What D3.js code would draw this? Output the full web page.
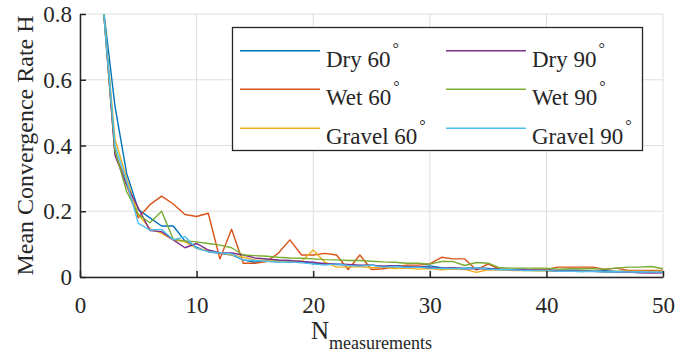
<!DOCTYPE html>
<html>
<head>
<meta charset="utf-8">
<script src="https://cdn.jsdelivr.net/npm/d3@7"></script>
<style>
  body { margin: 0; background: white; }
  text { font-family: "Liberation Serif", "Times New Roman", serif; fill: #262626; }
</style>
</head>
<body>
<div id="container"></div>
<script>
let w = 692;
let h = 353;

// number of measurements, 2 .. 50
let nValues = d3.range(2, 51);

let dry60 = [0.82,0.52,0.315,0.205,0.18,0.155,0.155,0.11,0.09,0.077,0.072,0.067,0.052,0.045,0.052,0.05,0.045,0.048,0.04,0.042,0.038,0.036,0.034,0.036,0.032,0.034,0.033,0.03,0.034,0.028,0.026,0.027,0.028,0.026,0.024,0.023,0.024,0.021,0.022,0.02,0.021,0.02,0.018,0.019,0.017,0.018,0.016,0.015,0.015];
let wet60 = [0.82,0.38,0.28,0.18,0.22,0.246,0.222,0.19,0.184,0.194,0.055,0.145,0.042,0.042,0.047,0.072,0.113,0.067,0.067,0.072,0.067,0.023,0.067,0.023,0.025,0.03,0.036,0.036,0.04,0.06,0.055,0.055,0.021,0.04,0.023,0.022,0.02,0.023,0.023,0.03,0.03,0.03,0.03,0.023,0.027,0.02,0.02,0.02,0.02];
let gravel60 = [0.82,0.42,0.3,0.19,0.147,0.133,0.113,0.107,0.087,0.08,0.074,0.067,0.06,0.052,0.05,0.048,0.047,0.047,0.082,0.045,0.03,0.03,0.032,0.028,0.03,0.026,0.027,0.024,0.026,0.022,0.024,0.023,0.014,0.022,0.021,0.02,0.02,0.019,0.018,0.018,0.017,0.018,0.017,0.016,0.017,0.018,0.018,0.017,0.018];
let dry90 = [0.82,0.37,0.28,0.21,0.141,0.138,0.113,0.089,0.102,0.082,0.074,0.073,0.067,0.058,0.055,0.052,0.05,0.047,0.045,0.04,0.04,0.038,0.036,0.036,0.033,0.034,0.03,0.031,0.028,0.027,0.028,0.025,0.026,0.024,0.024,0.022,0.022,0.021,0.02,0.018,0.019,0.017,0.017,0.016,0.014,0.015,0.013,0.012,0.013];
let wet90 = [0.82,0.385,0.26,0.19,0.165,0.2,0.115,0.11,0.107,0.102,0.097,0.089,0.067,0.065,0.063,0.06,0.058,0.057,0.055,0.053,0.052,0.05,0.05,0.048,0.046,0.045,0.042,0.042,0.039,0.047,0.047,0.035,0.044,0.042,0.028,0.027,0.027,0.027,0.027,0.024,0.025,0.025,0.025,0.024,0.027,0.03,0.03,0.032,0.025];
let gravel90 = [0.82,0.4,0.29,0.163,0.143,0.145,0.113,0.123,0.087,0.077,0.074,0.07,0.052,0.05,0.048,0.045,0.046,0.043,0.04,0.036,0.04,0.035,0.033,0.036,0.03,0.032,0.029,0.03,0.027,0.026,0.026,0.025,0.028,0.024,0.022,0.022,0.02,0.02,0.02,0.017,0.018,0.016,0.017,0.015,0.016,0.015,0.016,0.015,0.015];

let seriesNames = ["Dry 60", "Wet 60", "Gravel 60", "Dry 90", "Wet 90", "Gravel 90"];
let seriesValues = [dry60, wet60, gravel60, dry90, wet90, gravel90];
let seriesColors = ["#0072BD", "#D95319", "#EDB120", "#7E2F8E", "#77AC30", "#4DBEEE"];

let xTicks = [0, 10, 20, 30, 40, 50];
let yTicks = [0, 0.2, 0.4, 0.6, 0.8];

let plotLeft = 80, plotRight = 663, plotTop = 14, plotBottom = 277;
let serif = "'Liberation Serif', 'Times New Roman', serif";

let viz = d3.select("#container")
  .append("svg")
    .attr("width", w)
    .attr("height", h)
    .style("background-color", "white")
;

let xScale = d3.scaleLinear().domain([0, 50]).range([plotLeft, plotRight]);
let yScale = d3.scaleLinear().domain([0, 0.8]).range([plotBottom, plotTop]);

// grid
viz.append("g").selectAll("line").data(xTicks).enter()
  .append("line")
    .attr("x1", d => xScale(d)).attr("x2", d => xScale(d))
    .attr("y1", plotTop).attr("y2", plotBottom)
    .attr("stroke", "#dfdfdf")
    .attr("stroke-width", 1)
;
viz.append("g").selectAll("line").data(yTicks).enter()
  .append("line")
    .attr("x1", plotLeft).attr("x2", plotRight)
    .attr("y1", d => yScale(d)).attr("y2", d => yScale(d))
    .attr("stroke", "#dfdfdf")
    .attr("stroke-width", 1)
;

// data lines, clipped to the axes box
viz.append("clipPath").attr("id", "plotclip")
  .append("rect")
    .attr("x", plotLeft).attr("y", plotTop)
    .attr("width", plotRight - plotLeft).attr("height", plotBottom - plotTop)
;

let lineGen = d3.line()
  .x((d, i) => xScale(nValues[i]))
  .y(d => yScale(d))
;

viz.append("g").attr("clip-path", "url(#plotclip)")
  .selectAll("path").data(seriesValues).enter()
  .append("path")
    .attr("d", lineGen)
    .attr("fill", "none")
    .attr("stroke", (d, i) => seriesColors[i])
    .attr("stroke-width", 1.4)
    .attr("stroke-linejoin", "round")
;

// axes
let xAxis = d3.axisBottom(xScale).tickValues(xTicks).tickSizeInner(-6).tickSizeOuter(0).tickPadding(14);
let yAxis = d3.axisLeft(yScale).tickValues(yTicks).tickSizeInner(-6).tickSizeOuter(0).tickPadding(14)
  .tickFormat(d => d === 0 ? "0" : d3.format(".1f")(d));

let gx = viz.append("g").attr("transform", "translate(0," + plotBottom + ")").call(xAxis);
let gy = viz.append("g").attr("transform", "translate(" + plotLeft + ",0)").call(yAxis);

[gx, gy].forEach(function(g){
  g.attr("font-family", null).attr("font-size", null);
  g.select(".domain").attr("stroke", "#262626").attr("stroke-width", 1.5);
  g.selectAll(".tick line").attr("stroke", "#262626").attr("stroke-width", 1.5);
  g.selectAll(".tick text")
    .style("font-family", serif)
    .style("font-size", "23px")
    .attr("fill", "#262626");
});
gx.selectAll(".tick text").attr("y", 20).attr("dy", "0.71em");
gy.selectAll(".tick text").attr("x", -8).attr("dy", "0.33em");

// axis labels
viz.append("text")
  .attr("transform", "translate(33," + ((plotTop + plotBottom) / 2) + ") rotate(-90)")
  .attr("text-anchor", "middle")
  .attr("font-size", 24)
  .text("Mean Convergence Rate H")
;

let xlab = viz.append("text")
  .attr("x", (plotLeft + plotRight) / 2)
  .attr("y", 339)
  .attr("text-anchor", "middle")
  .attr("font-size", 25)
;
xlab.append("tspan").text("N");
xlab.append("tspan").attr("font-size", 18).attr("dy", 10).text("measurements");

// legend, two columns
let legend = viz.append("g");
legend.append("rect")
  .attr("x", 232.5).attr("y", 27.5)
  .attr("width", 410).attr("height", 123)
  .attr("fill", "white")
  .attr("stroke", "#262626")
  .attr("stroke-width", 1.3)
;

let rowY = [50.7, 89.3, 128.3];
let colX = [240, 446];

let items = legend.selectAll(".item").data(seriesNames).enter()
  .append("g")
    .classed("item", true)
    .attr("transform", (d, i) => "translate(" + colX[Math.floor(i / 3)] + "," + rowY[i % 3] + ")")
;
items.append("line")
  .attr("x1", 0).attr("x2", 80)
  .attr("y1", 0).attr("y2", 0)
  .attr("stroke", (d, i) => seriesColors[i])
  .attr("stroke-width", 1.4)
;
let labels = items.append("text")
  .attr("x", 86)
  .attr("y", 16)
  .attr("font-size", 23)
;
labels.append("tspan").text(d => d);
labels.append("tspan").attr("font-size", 16).attr("dx", 2).attr("dy", -13).text("°");
</script>
</body>
</html>
